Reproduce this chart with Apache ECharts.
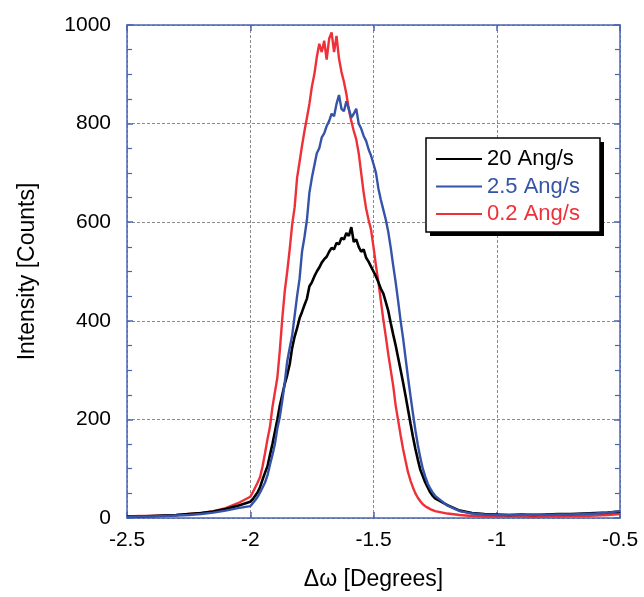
<!DOCTYPE html>
<html>
<head>
<meta charset="utf-8">
<script src="https://cdn.jsdelivr.net/npm/echarts@6/dist/echarts.min.js"></script>
<style>
    html, body { margin: 0; padding: 0; background: #fff; }
    #chart { width: 644px; height: 597px; }
</style>
</head>
<body>
<div id="chart"></div>
<script>
    // angle grid (degrees): coarse tails, fine core
    const angles = [
        -2.50, -2.45, -2.40, -2.35, -2.30, -2.25, -2.20, -2.15, -2.10, -2.05,
        -2.00, -1.99, -1.98, -1.97, -1.96, -1.95, -1.94, -1.93, -1.92, -1.91,
        -1.90, -1.89, -1.88, -1.87, -1.86, -1.85, -1.84, -1.83, -1.82, -1.81,
        -1.80, -1.79, -1.78, -1.77, -1.76, -1.75, -1.74, -1.73, -1.72, -1.71,
        -1.70, -1.69, -1.68, -1.67, -1.66, -1.65, -1.64, -1.63, -1.62, -1.61,
        -1.60, -1.59, -1.58, -1.57, -1.56, -1.55, -1.54, -1.53, -1.52, -1.51,
        -1.50, -1.49, -1.48, -1.47, -1.46, -1.45, -1.44, -1.43, -1.42, -1.41,
        -1.40, -1.39, -1.38, -1.37, -1.36, -1.35, -1.34, -1.33, -1.32, -1.31,
        -1.30, -1.29, -1.28, -1.27, -1.26, -1.25,
        -1.20, -1.15, -1.10, -1.05, -1.00, -0.95, -0.90, -0.85, -0.80, -0.75,
        -0.70, -0.65, -0.60, -0.55, -0.50
    ];

    // 20 Ang/s
    const rate20 = [
        3, 3, 4, 5, 6, 8, 10, 13, 18, 25,
        33, 38, 45, 52, 63, 78, 92, 105, 128, 150,
        175, 200, 228, 250, 272, 290, 312, 345, 368, 385,
        405, 418, 432, 445, 470, 478, 490, 500, 508, 518,
        525, 530, 540, 548, 545, 558, 555, 568, 565, 578,
        572, 590, 560, 565, 550, 540, 545, 528, 520, 510,
        500, 490, 478, 465, 455, 438, 420, 395, 372, 350,
        325, 300, 275, 248, 220, 192, 165, 140, 118, 98,
        85, 72, 62, 52, 45, 40,
        26, 15, 10, 8, 7, 6, 7, 6, 7, 8,
        8, 9, 10, 11, 13
    ];

    // 2.5 Ang/s
    const rate25 = [
        2, 3, 3, 4, 5, 6, 8, 11, 15, 20,
        24, 30, 36, 43, 52, 62, 72, 87, 108, 128,
        150, 182, 205, 238, 275, 318, 345, 370, 410, 450,
        485, 540, 570, 605, 660, 690, 715, 740, 750, 772,
        780, 795, 805, 820, 815, 840, 858, 830, 825, 845,
        830, 812, 820, 830, 800, 790, 775, 765, 748, 735,
        718, 700, 668, 645, 625, 605, 580, 548, 512, 478,
        440, 400, 365, 325, 285, 248, 212, 178, 148, 122,
        100, 84, 70, 60, 52, 45,
        25, 14, 9, 7, 6, 6, 6, 7, 6, 7,
        7, 8, 9, 11, 14
    ];

    // 0.2 Ang/s
    const rate02 = [
        3, 4, 4, 5, 6, 8, 10, 14, 20, 30,
        43, 52, 62, 72, 83, 105, 132, 160, 185, 225,
        255, 285, 340, 405, 460, 500, 545, 595, 630, 690,
        722, 755, 785, 812, 840, 875, 900, 935, 962, 945,
        968, 930, 972, 985, 945, 978, 932, 905, 885, 860,
        828, 805, 785, 768, 740, 700, 660, 628, 605, 585,
        550, 512, 478, 440, 402, 368, 332, 300, 268, 228,
        198, 168, 140, 116, 93, 76, 62, 50, 41, 34,
        28, 24, 21, 18, 16, 14,
        9, 6, 4, 3, 3, 3, 3, 2, 3, 3,
        4, 4, 5, 6, 8
    ];

    const seriesNames = ['20 Ang/s', '2.5 Ang/s', '0.2 Ang/s'];
    const seriesColors = ['#000000', '#3553a8', '#ee3038'];

    const frameColor = '#4a64b4';
    const fontFamily = '"Liberation Sans", Arial, sans-serif';

    function pairs(ys) {
        return angles.map((x, i) => [x, ys[i]]);
    }

    const chartDom = document.getElementById('chart');
    const myChart = echarts.init(chartDom);

    const xBase = {
        type: 'value',
        min: -2.5,
        max: -0.5,
        interval: 0.5,
        axisLine: { show: true, onZero: false, lineStyle: { color: frameColor, width: 1.5 } },
        axisTick: { show: true, inside: true, length: 6, lineStyle: { color: frameColor, width: 1.5 } }
    };
    const yBase = {
        type: 'value',
        min: 0,
        max: 1000,
        interval: 200,
        axisLine: { show: true, lineStyle: { color: frameColor, width: 1.5 } },
        axisTick: { show: true, inside: true, length: 6, lineStyle: { color: frameColor, width: 1.5 } },
        minorTick: { show: true, splitNumber: 4, length: 5, lineStyle: { color: frameColor, width: 1.2 } }
    };

    const option = {
        animation: false,
        backgroundColor: '#ffffff',
        textStyle: { fontFamily: fontFamily },
        grid: { left: 127, right: 24, top: 25, bottom: 79 },
        // legend frame with hard drop shadow
        graphic: [
            {
                type: 'rect',
                z: 50,
                shape: { x: 430, y: 142, width: 174, height: 94 },
                style: { fill: '#000000' }
            },
            {
                type: 'rect',
                z: 51,
                shape: { x: 426, y: 138, width: 174, height: 94 },
                style: { fill: '#ffffff', stroke: '#000000', lineWidth: 1.5 }
            }
        ],
        legend: {
            orient: 'vertical',
            left: 426,
            top: 138,
            z: 60,
            padding: [10, 20, 6, 10],
            itemGap: 5.5,
            itemWidth: 46,
            itemHeight: 2,
            icon: 'rect',
            textStyle: { fontSize: 22, lineHeight: 22, fontFamily: fontFamily },
            data: seriesNames.map((n, i) => ({ name: n, textStyle: { color: seriesColors[i] } }))
        },
        xAxis: [
            Object.assign({}, xBase, {
                position: 'bottom',
                name: 'Δω [Degrees]',
                nameLocation: 'middle',
                nameGap: 50,
                nameTextStyle: { color: '#000', fontSize: 23, fontFamily: fontFamily },
                axisLabel: { color: '#000', fontSize: 21, margin: 12, fontFamily: fontFamily },
                splitLine: { show: true, lineStyle: { color: '#8a8a8a', width: 1, type: [3, 2] } }
            }),
            Object.assign({}, xBase, {
                position: 'top',
                axisLabel: { show: false },
                splitLine: { show: false }
            })
        ],
        yAxis: [
            Object.assign({}, yBase, {
                position: 'left',
                name: 'Intensity [Counts]',
                nameLocation: 'middle',
                nameGap: 88,
                nameTextStyle: { color: '#000', fontSize: 23, fontFamily: fontFamily },
                axisLabel: {
                    color: '#000', fontSize: 21, margin: 16, fontFamily: fontFamily,
                    formatter: (v) => String(v)
                },
                splitLine: { show: true, lineStyle: { color: '#8a8a8a', width: 1, type: [3, 2] } }
            }),
            Object.assign({}, yBase, {
                position: 'right',
                axisLabel: { show: false },
                splitLine: { show: false }
            })
        ],
        series: [
            {
                name: seriesNames[2],
                type: 'line',
                showSymbol: false,
                data: pairs(rate02),
                lineStyle: { color: seriesColors[2], width: 2.4 },
                itemStyle: { color: seriesColors[2] },
                z: 2
            },
            {
                name: seriesNames[0],
                type: 'line',
                showSymbol: false,
                data: pairs(rate20),
                lineStyle: { color: seriesColors[0], width: 2.6 },
                itemStyle: { color: seriesColors[0] },
                z: 3
            },
            {
                name: seriesNames[1],
                type: 'line',
                showSymbol: false,
                data: pairs(rate25),
                lineStyle: { color: seriesColors[1], width: 2.4 },
                itemStyle: { color: seriesColors[1] },
                z: 4
            }
        ]
    };

    window.addEventListener('resize', () => {
        myChart.resize()
    })
    option && myChart.setOption(option);
</script>
</body>
</html>
